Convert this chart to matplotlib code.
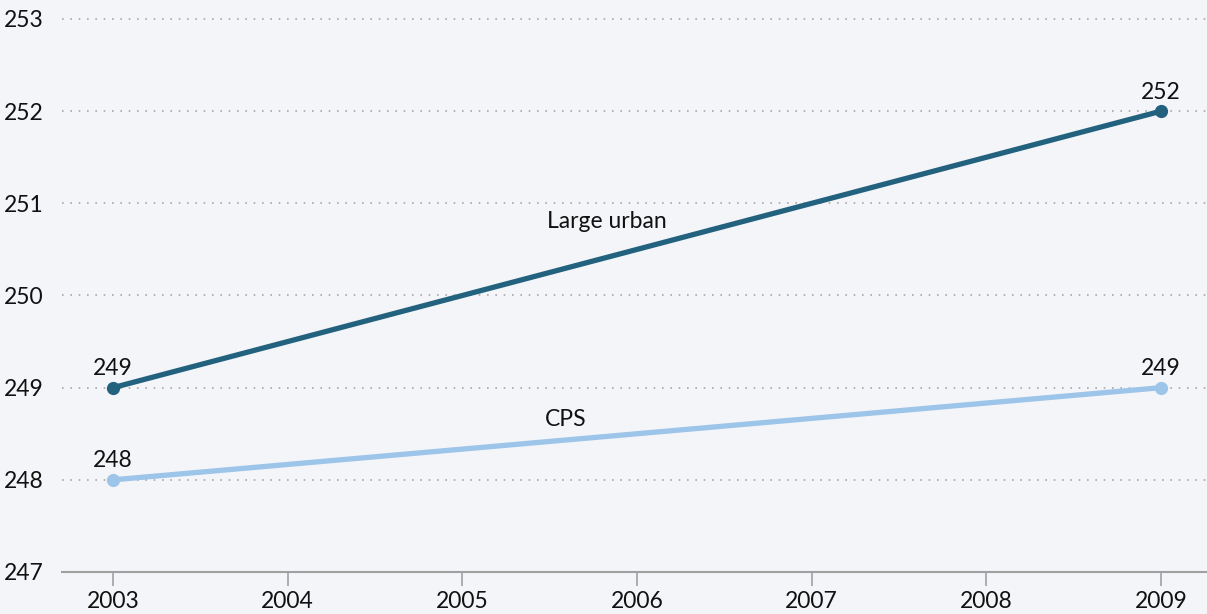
import matplotlib.pyplot as plt

years = [2003, 2004, 2005, 2006, 2007, 2008, 2009]
end_years = [2003, 2009]
large_urban = [249, 252]
cps = [248, 249]
y_ticks = [247, 248, 249, 250, 251, 252, 253]

dark = '#23627f'
light = '#9dc4e9'
bg = '#f4f5f8'

plt.rcParams['font.family'] = ['Lato', 'DejaVu Sans']
fs = 16.5

fig = plt.figure(figsize=(12.07, 6.14), dpi=100, facecolor=bg)
ax = fig.add_axes([62 / 1207, 42 / 614, 1145 / 1207, 572 / 614], facecolor=bg)

ax.plot(end_years, large_urban, color=dark, lw=3.8, marker='o', ms=8.5, solid_capstyle='round', zorder=3)
ax.plot(end_years, cps, color=light, lw=3.8, marker='o', ms=8.5, solid_capstyle='round', zorder=3)

# value labels at the end points
for x, y in zip(end_years, large_urban):
    ax.annotate(str(y), (x, y), xytext=(0, 6), textcoords='offset points',
                ha='center', va='bottom', fontsize=fs, color='#111111')
for x, y in zip(end_years, cps):
    ax.annotate(str(y), (x, y), xytext=(0, 6), textcoords='offset points',
                ha='center', va='bottom', fontsize=fs, color='#111111')

ax.text(2005.83, 250.80, 'Large urban', ha='center', va='center', fontsize=fs, color='#111111')
ax.text(2005.59, 248.65, 'CPS', ha='center', va='center', fontsize=fs, color='#111111')

ax.set_xlim(2002.708, 2009.263)
ax.set_ylim(247, 253.206)
ax.set_xticks(years)
ax.set_yticks(y_ticks)
ax.tick_params(axis='x', length=10, width=1.2, color='#a0a0a0', labelsize=fs, pad=4, labelcolor='#111111')
ax.tick_params(axis='y', length=0, labelsize=fs, pad=13, labelcolor='#111111')

for y in y_ticks[1:]:
    ax.axhline(y, color='#a8a8a8', lw=1.2, ls=(0, (1, 4)), zorder=1)

for s in ['top', 'right', 'left']:
    ax.spines[s].set_visible(False)
ax.spines['bottom'].set_color('#a0a0a0')
ax.spines['bottom'].set_linewidth(1.5)

fig.savefig('out.png', facecolor=bg)
